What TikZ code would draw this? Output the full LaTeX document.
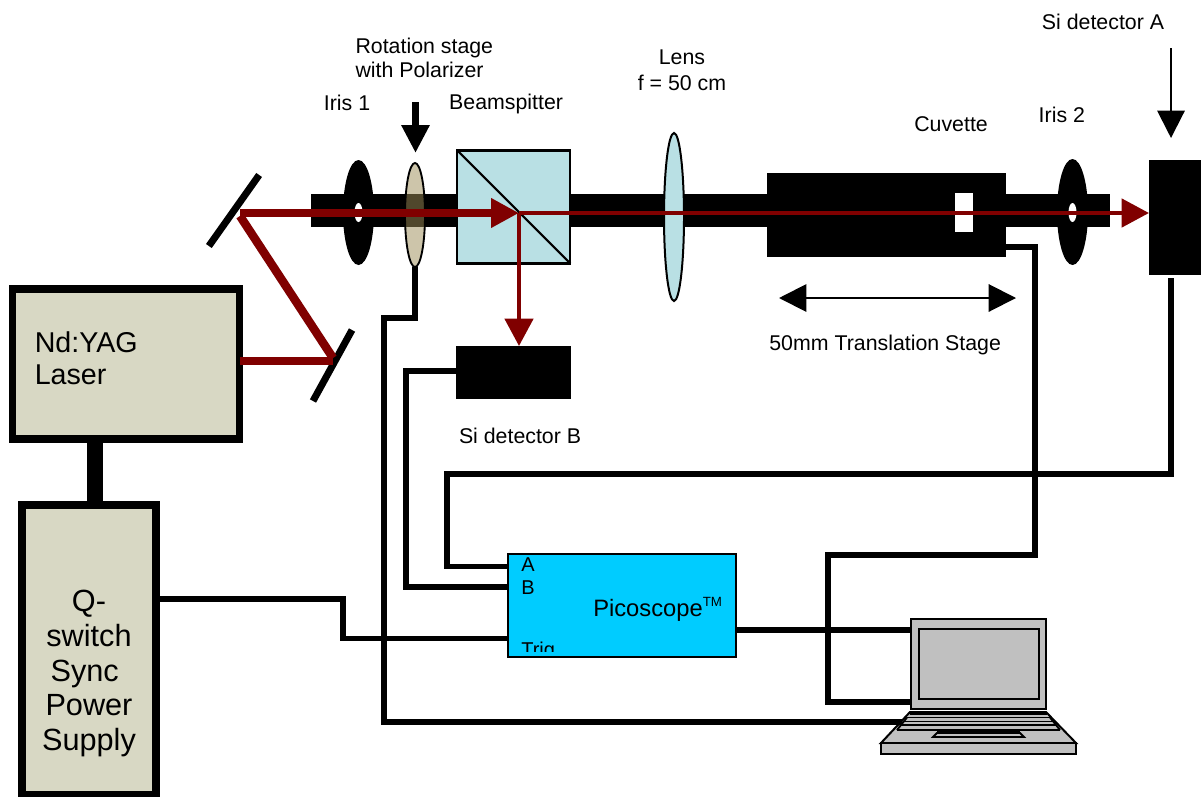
\documentclass[tikz,border=0pt]{standalone}
\usepackage{fontspec}
\setmainfont{Liberation Sans}
\usetikzlibrary{positioning, arrows.meta, shapes.geometric}
\definecolor{beamred}{HTML}{800000}
\definecolor{cubeblue}{HTML}{B9E0E4}
\definecolor{boxtan}{HTML}{D8D8C4}
\definecolor{polartan}{HTML}{9D8D58}
\definecolor{scopeblue}{HTML}{00CCFF}
\definecolor{laptopgrey}{HTML}{C0C0C0}
\tikzset{
	solid box/.style 2 args={rectangle, fill=black, inner sep=0pt, outer sep=0pt, minimum width=#1*.75pt, minimum height=#2*.75pt},
	frame box/.style 2 args={rectangle, draw=black, inner sep=0pt, outer sep=0pt, minimum width=#1*.75pt, minimum height=#2*.75pt},
	disc/.style 2 args={ellipse, inner sep=0pt, outer sep=0pt, minimum width=#1*.75pt, minimum height=#2*.75pt},
	lbl/.style={align=center, font=\fontsize{16}{18}\selectfont},
	port/.style={anchor=base west, inner sep=0pt, font=\fontsize{15}{18}\selectfont},
	wire/.style={line width=4.1pt, miter limit=10},
	laser/.style={draw=beamred, line width=6.4pt},
	beam/.style={draw=beamred, line width=3.4pt, -{Triangle[length=20.5pt, width=21pt, fill=beamred]}},
	pointer/.style={line width=1.5pt, -{Triangle[length=20.5pt, width=20.5pt]}},
	keys/.style={line width=1.4pt}
}
\begin{document}
\begin{tikzpicture}[x=.75pt, y=-.75pt, on grid]
	\useasboundingbox (0,0) rectangle (1201,796);
	\coordinate (rail w) at (311,210.5);
	\coordinate (rail e) at (1110,210.5);
	\draw[line width=24.75pt] (rail w) -- (rail e);
	\node[disc={31}{105}, fill=black] (iris1) at (358.5,212.5) {};
	\node[disc={8}{19}, fill=white] (iris1 hole) at (358.5,212.5) {};
	\node[disc={20}{104}] (pol) at (415,215) {};
	\fill[polartan, opacity=.51] (pol.center) ellipse [x radius=10, y radius=52];
	\draw[line width=1.4pt] (pol.center) ellipse [x radius=10, y radius=52];
	\node[frame box={113}{113}, fill=cubeblue, line width=1.6pt] (cube) at (513.8,207) {};
	\draw[line width=1.6pt] (cube.north west) -- (cube.south east);
	\node[disc={20}{168}, draw=black, fill=cubeblue, line width=1.5pt] (lens) at (674,217) {};
	\node[solid box={239}{84}] (cuv) at (886.5,215) {};
	\node[solid box={18}{39}, fill=white] (cell) at (964,212.5) {};
	\node[disc={31}{106}, fill=black] (iris2) at (1072.5,212) {};
	\node[disc={8}{19}, fill=white] (iris2 hole) at (1072.5,212.5) {};
	\node[solid box={52}{115}] (det a) at (1175,217.5) {};
	\node[solid box={115}{53}] (det b) at (513.8,372.5) {};
	\node[solid box={87}{7}, rotate=54.7] (mirror1) at (234,210.5) {};
	\node[solid box={81}{7}, rotate=61.2] (mirror2) at (332.5,365.5) {};

	\node[frame box={227}{150}, fill=boxtan, line width=5.6pt] (yag) at (126,364) {};
	\node[frame box={134}{290}, fill=boxtan, line width=5.6pt] (qsw) at (89,650) {};
	\coordinate (link top) at (95,442);
	\coordinate (link bot) at (95,503);
	\draw[line width=12pt] (link top) -- (link bot);
	\node[anchor=base west, align=left, inner sep=0pt, font=\fontsize{21.5}{24}\selectfont] (yag text) at (34.5,384.5) {Nd:YAG\\Laser};
	\node[align=center, inner sep=0pt, font=\fontsize{23}{26.2}\selectfont] (qsw text) at (89,673.5) {Q-\\switch\\Sync\kern.28em\relax\\Power\\Supply};

	\node[frame box={228}{103}, fill=scopeblue, line width=1.6pt] (pico) at (622,605.5) {};
	\node[port] (port a) at (521,571.5) {A};
	\node[port] (port b) at (521,594) {B};
	\begin{scope}
		\clip (510,556) rectangle (734,651.5);
		\node[port] (port trig) at (521,656) {Trig};
	\end{scope}
	\node[anchor=base west, inner sep=0pt, font=\fontsize{17.8}{20}\selectfont] (pico text) at (593,616.5) {Picoscope\raisebox{7.5pt}{\fontsize{10}{10}\selectfont TM}};

	\node[frame box={135}{90}, fill=laptopgrey, line width=1.5pt] (lid) at (978.5,664) {};
	\node[frame box={120}{70}, fill=laptopgrey, line width=1.5pt] (screen) at (979,663.5) {};
	\draw[fill=laptopgrey, line width=1.5pt] (910,712) -- (1046,712) -- (1076,743) -- (881,743) -- cycle;
	\node[frame box={195}{11}, fill=laptopgrey, line width=1.5pt] (deck) at (978.5,748.5) {};
	\draw[keys] (910,714) -- (1047,714);
	\draw[keys] (907,717.5) -- (1050,717.5);
	\draw[keys] (904,721.5) -- (1053,721.5);
	\draw[keys] (901,725) -- (1056,725);
	\draw[keys] (897,730) -- (1060,730);
	\draw[keys] (907,717.5) -- (897,730) (1050,717.5) -- (1060,730);
	\draw[line width=1.4pt, fill=laptopgrey] (933,737) -- (937,733) -- (1020,733) -- (1024,737) -- cycle;
	\draw[line width=1.4pt] (937,732) -- (1020,732);

	\coordinate (pol bend) at (384,318);
	\coordinate (pc usb) at (902,722);
	\draw[wire] (pol.south) |- (pol bend) |- (pc usb);
	\coordinate (b bend) at (406,587);
	\draw[wire] (det b.west |- 0,371) -| (b bend) -- (pico.west |- b bend);
	\coordinate (cuv out) at (1006,247);
	\coordinate (cuv bend) at (1035,555);
	\coordinate (pc drop) at (828,702);
	\draw[wire] (cuv out) -| (cuv bend) -| (pc drop) -- (lid.west |- pc drop);
	\coordinate (a out) at (1171,278);
	\coordinate (a bend) at (447,474);
	\coordinate (a in) at (508,566.5);
	\draw[wire] (a out) |- (a bend) |- (a in);
	\coordinate (sync out) at (160,599);
	\coordinate (sync bend) at (343,638.5);
	\coordinate (trig in) at (508,638.5);
	\draw[wire] (sync out) -| (sync bend) -- (trig in);
	\coordinate (scope out) at (736,630);
	\draw[wire] (scope out) -- (lid.west |- scope out);

	\coordinate (out start) at (240,361);
	\coordinate (out end) at (333,361);
	\coordinate (fold a) at (333,358);
	\coordinate (fold b) at (240,216);
	\coordinate (ax start) at (240,213);
	\coordinate (ax split) at (519,213);
	\draw[laser] (out start) -- (out end);
	\draw[laser] (fold a) -- (fold b);
	\draw[laser, -{Triangle[length=21pt, width=21pt, fill=beamred]}] (ax start) -- (ax split);
	\draw[beam] (ax split) -- (det a.west |- ax split);
	\draw[beam] (ax split) -- (ax split |- det b.north);

	\coordinate (pol top) at (415.5,102);
	\coordinate (pol tip) at (415.5,153);
	\draw[line width=5.25pt, -{Triangle[length=21pt, width=20pt]}] (pol top) -- (pol tip);
	\coordinate (a top) at (1171,48);
	\coordinate (a tip) at (1171,138);
	\draw[pointer] (a top) -- (a tip);
	\coordinate (stage w) at (779,298);
	\coordinate (stage e) at (1016,298);
	\draw[line width=1.5pt, {Triangle[length=20.5pt, width=20.5pt]}-{Triangle[length=20.5pt, width=20.5pt]}] (stage w) -- (stage e);

	\node[lbl] (iris1 lbl) [above left=82pt and 8.6pt of iris1] {Iris 1};
	\node[lbl, align=left] (pol lbl) [above right=117.75pt and 7pt of pol] {Rotation stage\\with Polarizer};
	\node[lbl] (cube lbl) [above left=77pt and 5.8pt of cube] {Beamspitter};
	\node[lbl, font=\fontsize{16}{19.5}\selectfont] (lens lbl) [above right=110pt and 6pt of lens] {Lens\\f = 50 cm};
	\node[lbl] (cuv lbl) [above right=68pt and 48.4pt of cuv] {Cuvette};
	\node[lbl] (iris2 lbl) [above left=72.75pt and 8pt of iris2] {Iris 2};
	\node[lbl] (det a lbl) [above left=146.6pt and 54pt of det a] {Si detector A};
	\node[lbl] (det b lbl) [below right=47.6pt and 4.7pt of det b] {Si detector B};
	\node[lbl] (stage lbl) [below left=97.5pt and 1pt of cuv] {50mm Translation Stage};
\end{tikzpicture}
\end{document}
